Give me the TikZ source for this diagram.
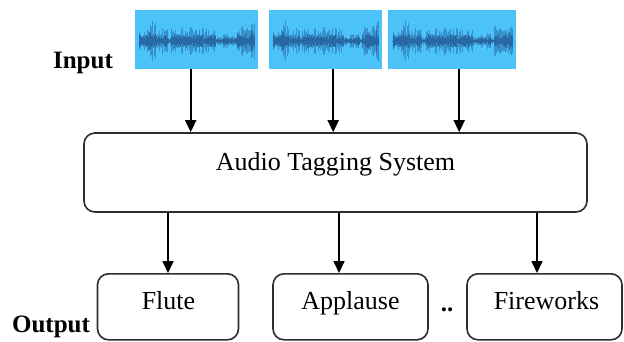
\documentclass[tikz,border=0pt]{standalone}
\usepackage{fontspec}
\setmainfont{Liberation Serif}
\usetikzlibrary{arrows.meta}

\definecolor{clipbg}{RGB}{76,195,248}
\definecolor{clipwave}{RGB}{40,105,165}
\definecolor{edge}{RGB}{45,45,45}

% one audio clip: a blue panel with a waveform drawn across it
\newcommand\drawclip[3]{% #1 name, #2 left, #3 right
  \node[clipbox, minimum width={#3-#2}, anchor=north west] (#1) at (#2,10) {};
  \pgfmathsetseed{11}
  \draw[clipwave, line width=0.8pt] (#2+4,41) -- (#3-4,41);
  \foreach \fa/\fb/\am in {0.04/0.12/12, 0.12/0.17/21, 0.17/0.27/14, 0.27/0.30/5,
      0.30/0.50/14, 0.50/0.66/13, 0.66/0.72/5, 0.72/0.80/8, 0.80/0.83/4,
      0.83/0.95/15, 0.95/0.975/23}{
    \pgfmathsetmacro\xa{#2+\fa*(#3-#2)}
    \pgfmathsetmacro\xc{\xa+1}
    \pgfmathsetmacro\xb{#2+\fb*(#3-#2)}
    \foreach \x in {\xa,\xc,...,\xb}{
      \pgfmathsetmacro\h{\am*(0.3+0.7*rnd)}
      \pgfmathsetmacro\k{\am*(0.15+0.35*rnd)}
      \draw[clipwave, line width=0.9pt, opacity=0.55] (\x,41-\h) -- (\x,41+\h);
      \draw[clipwave, line width=1pt] (\x,41-\k) -- (\x,41+\k);
    }
  }
}

\begin{document}
\begin{tikzpicture}[x=1pt, y=-1pt,
  clipbox/.style={fill=clipbg, draw=none, minimum height=59pt, inner sep=0pt},
  sysbox/.style={draw=edge, line width=1.6pt, rounded corners=11pt, inner sep=0pt},
  tagbox/.style={draw=edge, line width=1.6pt, rounded corners=11pt, inner sep=0pt,
    minimum height=66pt, anchor=north},
  lbl/.style={font=\fontsize{26}{30}\selectfont, inner sep=0pt, anchor=base},
  side/.style={font=\fontsize{25}{30}\selectfont\bfseries, inner sep=0pt, anchor=base},
  arr/.style={line width=1.7pt, -{Triangle[length=12pt, width=11pt]}}]

\useasboundingbox (0,0) rectangle (624,341);

% input clips
\drawclip{in1}{135}{258}
\drawclip{in2}{269}{382}
\drawclip{in3}{388}{516}

\node[side] (inlbl) at (83,68) {Input};

% tagging system
\node[sysbox, minimum width=503pt, minimum height=79pt] (sys) at (335.5,172.5) {};
\node[lbl] (systxt) at (335.5,170) {Audio Tagging System};

% output tags
\node[tagbox, minimum width=141pt] (flute) at (168,273) {};
\node[tagbox, minimum width=155pt] (applause) at (350.5,273) {};
\node[tagbox, minimum width=155pt] (fireworks) at (544.5,273) {};

\node[lbl] (flutetxt) at (168.5,309) {Flute};
\node[lbl] (applausetxt) at (350.5,309) {Applause};
\node[lbl] (fireworkstxt) at (546.5,309) {Fireworks};
\node[side] (dots) at (447,311) {..};
\node[side] (outlbl) at (51,332) {Output};

% connectors
\draw[arr] ([xshift=-6pt]in1.south) -- ([xshift=-6pt]in1.south |- sys.north);
\draw[arr] ([xshift=7.5pt]in2.south) -- ([xshift=7.5pt]in2.south |- sys.north);
\draw[arr] ([xshift=7pt]in3.south) -- ([xshift=7pt]in3.south |- sys.north);

\draw[arr] (flute.north |- sys.south) -- (flute.north);
\draw[arr] ([xshift=-11.5pt]applause.north |- sys.south) -- ([xshift=-11.5pt]applause.north);
\draw[arr] ([xshift=-7.5pt]fireworks.north |- sys.south) -- ([xshift=-7.5pt]fireworks.north);
\end{tikzpicture}
\end{document}
